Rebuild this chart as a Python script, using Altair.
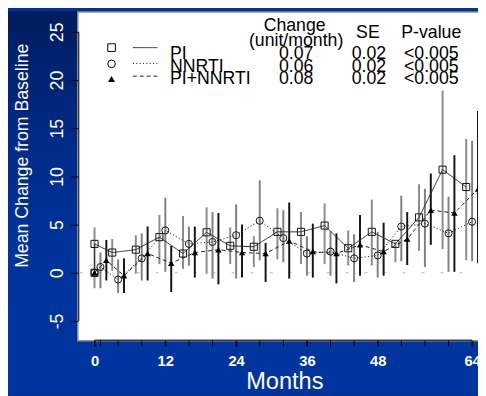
import altair as alt
import pandas as pd

# ---------------- data ----------------
times = [0, 1, 4, 8, 12, 16, 20, 24, 28, 32, 36, 40, 44, 48, 52, 56, 60, 64]
groups = ["PI", "NNRTI", "PI+NNRTI"]

pi_mean = [0, 3.0, 2.1, 2.4, 3.7, 2.0, 4.2, 2.8, 2.7, 4.25, 4.25, 4.9, 2.55, 4.25, 3.0, 5.75, 10.7, 8.9]
pi_lo = [0, -1.6, 0.2, -0.1, 0.9, 0.4, -0.1, 0.9, 0.6, 1.4, 0.9, 0.9, 0.75, 0.75, 1.1, 2.3, 2.45, 1.3]
pi_hi = [0, 4.7, 3.5, 3.9, 6.0, 5.9, 6.8, 4.7, 3.8, 6.7, 6.3, 7.2, 4.4, 7.6, 3.2, 9.2, 18.9, 13.9]

nn_mean = [0, 0.6, -0.7, 1.5, 4.4, 3.0, 3.2, 3.9, 5.4, 3.6, 2.0, 2.2, 1.5, 1.8, 4.8, 5.1, 4.1, 5.3]
nn_lo = [0, -1.6, -2.1, -0.8, 0.1, 0.75, -0.6, -0.6, 1.3, 1.1, -0.3, -0.3, -0.95, -0.5, 1.2, 0.6, 0.1, 1.2]
nn_hi = [0, 2.1, 1.4, 4.1, 7.8, 4.8, 6.3, 7.1, 9.6, 6.5, 3.8, 4.3, 4.0, 4.25, 8.0, 8.7, 7.9, 13.7]

pn_mean = [0, 1.3, -0.3, 2.0, 1.0, 2.1, 2.4, 2.1, 2.0, 3.3, 2.2, 2.0, 2.9, 2.2, 3.5, 6.5, 6.2, 8.7]
pn_lo = [0, -0.8, -2.1, -0.8, -2.0, -0.5, -1.2, -0.5, -0.95, -0.6, -0.5, -1.1, -0.3, -0.3, 0.8, 2.9, 0.1, 1.0]
pn_hi = [0, 3.4, 1.5, 4.8, 2.8, 4.8, 6.2, 5.0, 3.1, 7.3, 5.1, 4.1, 6.0, 5.2, 6.3, 10.3, 12.2, 16.8]

slope = ["0.07", "0.06", "0.08"]
se = ["0.02", "0.02", "0.02"]
pval = ["<0.005", "<0.005", "<0.005"]

x_labels = [0, 12, 24, 36, 48, 64]
y_ticks = [-5, 0, 5, 10, 15, 20, 25]

# ---------------- build table ----------------
jitter = {"PI": -1, "NNRTI": 0, "PI+NNRTI": 1}
series = {
    "PI": (pi_mean, pi_lo, pi_hi),
    "NNRTI": (nn_mean, nn_lo, nn_hi),
    "PI+NNRTI": (pn_mean, pn_lo, pn_hi),
}
rows = []
for g in groups:
    m, lo, hi = series[g]
    for i, t in enumerate(times):
        rows.append({"group": g, "t": t, "xp": t + jitter[g] if t > 0 else t,
                     "mean": m[i], "lo": lo[i], "hi": hi[i]})
df = pd.DataFrame(rows)
tick_df = pd.DataFrame({"t": times})

FONT = "Liberation Sans"
W, H = 407, 335
xs = alt.Scale(domain=[-2.833, 65], nice=False, zero=False)
ys = alt.Scale(domain=[-7.04, 27.14], nice=False, zero=False)

xaxis = alt.Axis(values=x_labels, labelExpr="'' + datum.value", labelOverlap=False,
                 labelFlush=False, labelBound=False,
                 domain=False, grid=False, tickColor="black", tickSize=6, tickWidth=1,
                 labelColor="white", labelFont=FONT, labelFontSize=15, labelFontWeight="bold",
                 labelPadding=7, title="Months", titleColor="white", titleFont=FONT,
                 titleFontSize=24, titleFontWeight="normal", titleX=210, titleY=49,
                 titleBaseline="alphabetic", titleAlign="center", zindex=1)
yaxis = alt.Axis(values=y_ticks, labelExpr="'' + datum.value", labelOverlap=False,
                 domain=False, grid=False, tickColor="black", tickSize=7,
                 tickWidth=1, labelColor="white", labelFont=FONT, labelFontSize=18,
                 labelAngle=270, labelAlign="center", labelBaseline="alphabetic",
                 labelPadding=9, title="Mean Change from Baseline", titleColor="white",
                 titleFont=FONT, titleFontSize=18, titleFontWeight="normal", titleAngle=270,
                 titleX=-51, titleY=146.5, titleAlign="center", titleBaseline="alphabetic",
                 zindex=1)

one = pd.DataFrame({"a": [0]})

grad = alt.LinearGradient(
    gradient="linear", x1=0, x2=0, y1=0, y2=1,
    stops=[alt.GradientStop(offset=0, color="#001c5e"),
           alt.GradientStop(offset=0.35, color="#002b88"),
           alt.GradientStop(offset=0.6, color="#00329a"),
           alt.GradientStop(offset=1, color="#00359f")])

bg = alt.Chart(one).mark_rect(fill=grad).encode(
    x=alt.value(-71), x2=alt.value(W), y=alt.value(0), y2=alt.value(388))

box = alt.Chart(one).mark_rect(fill="white", stroke="#8f8f8f", strokeWidth=1.5).encode(
    x=alt.value(0), x2=alt.value(W + 20), y=alt.value(0.75), y2=alt.value(H))

zero = alt.Chart(one).mark_rule(color="#b5b5b5", strokeWidth=1, strokeDash=[3, 16.3],
                                strokeDashOffset=17.2).encode(
    x=alt.value(0), x2=alt.value(W), y=alt.datum(0))

# minor ticks at every visit time (below the plot, like R's axis ticks)
minor = alt.Chart(tick_df).mark_rule(color="black", strokeWidth=1).encode(
    x=alt.X("t:Q", scale=xs, axis=xaxis), y=alt.value(H), y2=alt.value(H + 6))

bars = alt.Chart(df).mark_rule().encode(
    x=alt.X("xp:Q", scale=xs, axis=xaxis),
    y=alt.Y("lo:Q", scale=ys, axis=yaxis),
    y2="hi:Q",
    color=alt.Color("group:N", scale=alt.Scale(domain=groups, range=["#8c8c8c", "#808080", "#151515"]), legend=None),
    strokeWidth=alt.StrokeWidth("group:N", scale=alt.Scale(domain=groups, range=[2, 2, 1.5]), legend=None),
)

dashes = [[1, 0], [1.2, 2.2], [4, 3]]
lines = alt.Chart(df).mark_line(color="#222222", strokeWidth=1).encode(
    x=alt.X("xp:Q", scale=xs, axis=xaxis),
    y=alt.Y("mean:Q", scale=ys, axis=yaxis),
    detail="group:N",
    strokeDash=alt.StrokeDash("group:N", scale=alt.Scale(domain=groups, range=dashes), legend=None),
    order="t:Q",
)

shapes = ["square", "circle", "triangle-up"]
shape_scale = alt.Scale(domain=groups, range=shapes)
pts_open = alt.Chart(df).transform_filter("datum.group != 'PI+NNRTI'").mark_point(
    filled=False, color="#111111", size=52, strokeWidth=1, opacity=1).encode(
    x=alt.X("xp:Q", scale=xs, axis=xaxis),
    y=alt.Y("mean:Q", scale=ys, axis=yaxis),
    shape=alt.Shape("group:N", scale=shape_scale, legend=None),
)
pts_tri = alt.Chart(df).transform_filter("datum.group == 'PI+NNRTI'").mark_point(
    filled=True, color="#000000", size=42, opacity=1).encode(
    x=alt.X("xp:Q", scale=xs, axis=xaxis),
    y=alt.Y("mean:Q", scale=ys, axis=yaxis),
    shape=alt.Shape("group:N", scale=shape_scale, legend=None),
)

xline = alt.Chart(one).mark_rule(color="black", strokeWidth=1).encode(
    x=alt.datum(0), x2=alt.datum(64), y=alt.value(H - 0.5))
yline = alt.Chart(one).mark_rule(color="black", strokeWidth=1).encode(
    x=alt.value(1), y=alt.datum(-5), y2=alt.datum(25))

# ---------------- legend table ----------------
legend_layers = []
def txt(s, x, y, align):
    return alt.Chart(one).mark_text(text=s, font=FONT, fontSize=18, color="black",
                                    align=align, baseline="alphabetic").encode(
        x=alt.value(x), y=alt.value(y))

legend_layers.append(txt("Change", 220.5, 20.3, "center"))
legend_layers.append(txt("(unit/month)", 222, 35, "center"))
legend_layers.append(txt("SE", 295, 27, "center"))
legend_layers.append(txt("P-value", 359.5, 27, "center"))

text_base = [49, 61.5, 74]
sym_y = [37, 53.5, 69]
line_y = [37, 53, 66]
for i, g in enumerate(groups):
    legend_layers.append(txt(g, 93.7, text_base[i], "left"))
    legend_layers.append(txt(slope[i], 222, text_base[i], "center"))
    legend_layers.append(txt(se[i], 296, text_base[i], "center"))
    legend_layers.append(txt(pval[i], 359.5, text_base[i], "center"))
    legend_layers.append(
        alt.Chart(one).mark_point(shape=shapes[i], filled=(i == 2), color="black",
                                  size=60 if i < 2 else 50, strokeWidth=1, opacity=1).encode(
            x=alt.value(34.3), y=alt.value(sym_y[i])))
    legend_layers.append(
        alt.Chart(one).mark_rule(color="#222222", strokeWidth=1, strokeDash=dashes[i]).encode(
            x=alt.value(56), x2=alt.value(81), y=alt.value(line_y[i])))

chart = alt.layer(bg, box, zero, minor, bars, lines, pts_open, pts_tri, xline, yline,
                  *legend_layers).properties(
    width=W, height=H,
    autosize=alt.AutoSizeParams(type="none"),
    padding={"left": 71, "top": 0, "right": 0, "bottom": 53},
    background="#00339a",
).configure_view(stroke=None).configure_axis(labelOverlap=False)

chart.save("out.html", embed_options={"renderer": "svg", "actions": False})
